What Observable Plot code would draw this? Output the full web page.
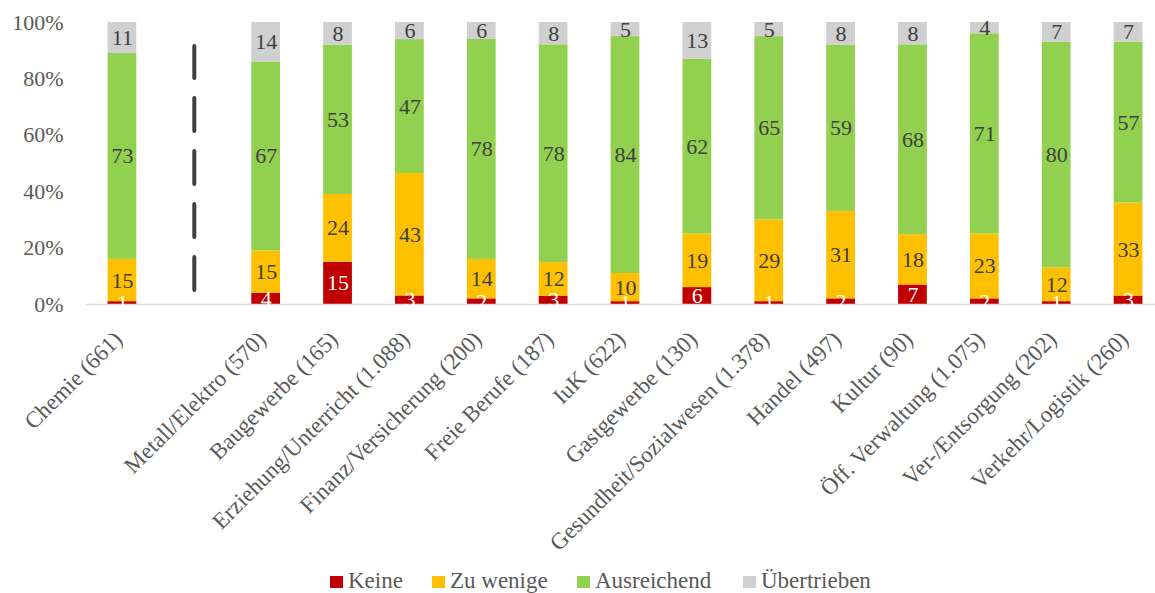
<!DOCTYPE html>
<html><head><meta charset="utf-8">
<script src="https://cdn.jsdelivr.net/npm/d3@7"></script>
<script src="https://cdn.jsdelivr.net/npm/@observablehq/plot@0.6"></script>
<style>
body{margin:0;background:#fff;font-family:"Liberation Serif","Times New Roman",serif;}
#wrap{position:relative;width:1155px;height:593px;overflow:hidden;}
.leg{position:absolute;top:568px;font-size:23px;color:#595959;line-height:26px;white-space:nowrap;}
.leg span.sw{display:inline-block;width:13px;height:12px;margin-right:5px;vertical-align:0px;}
</style></head>
<body><div id="wrap"></div>
<script>
const categories = ["Chemie (661)", "Metall/Elektro (570)", "Baugewerbe (165)", "Erziehung/Unterricht (1.088)", "Finanz/Versicherung (200)", "Freie Berufe (187)", "IuK (622)", "Gastgewerbe (130)", "Gesundheit/Sozialwesen (1.378)", "Handel (497)", "Kultur (90)", "Öff. Verwaltung (1.075)", "Ver-/Entsorgung (202)", "Verkehr/Logistik (260)"];
const seriesNames = ["Keine", "Zu wenige", "Ausreichend", "Übertrieben"];
const keine        = [1, 4, 15, 3, 2, 3, 1, 6, 1, 2, 7, 2, 1, 3];
const zuWenige     = [15, 15, 24, 43, 14, 12, 10, 19, 29, 31, 18, 23, 12, 33];
const ausreichend  = [73, 67, 53, 47, 78, 78, 84, 62, 65, 59, 68, 71, 80, 57];
const uebertrieben = [11, 14, 8, 6, 6, 8, 5, 13, 5, 8, 8, 4, 7, 7];
const yTicks = [0, 0.2, 0.4, 0.6, 0.8, 1];
const colors = ["#C00000", "#FFC000", "#92D050", "#D0D0D0"];
const dividerSpan = [0.05, 0.915];
const legendX = [330, 432, 577, 743];

const GAP = "\u2002";
const domain = [categories[0], GAP, ...categories.slice(1)];
const seriesValues = [keine, zuWenige, ausreichend, uebertrieben];
const data = [];
categories.forEach((c, i) => seriesNames.forEach((s, j) => data.push({cat: c, series: s, value: seriesValues[j][i]})));

const font = '"Liberation Serif","Times New Roman",serif';
const chart = Plot.plot({
  width: 1155, height: 560,
  marginLeft: 86, marginRight: 0, marginTop: 22, marginBottom: 256,
  style: {fontFamily: font, fontSize: "22px", background: "transparent"},
  x: {domain, range: [86, 1164], paddingInner: 0.6, paddingOuter: 0.3, round: false, label: null},
  y: {domain: [0, 1], label: null},
  color: {domain: seriesNames, range: colors},
  marks: [
    Plot.barY(data, {x: "cat", y: "value", fill: "series", order: seriesNames, offset: "normalize"}),
    Plot.ruleY([0], {stroke: "#d9d9d9", strokeWidth: 1.5}),
    Plot.ruleX([GAP], {y1: dividerSpan[0], y2: dividerSpan[1], stroke: "#404040", strokeWidth: 4, strokeDasharray: "33,20", strokeLinecap: "round"}),
    Plot.text(data, Plot.stackY({x: "cat", y: "value", text: "value", order: seriesNames, offset: "normalize",
      fill: d => d.series === "Keine" ? "#ffffff" : "#404040", fontSize: 22})),
    Plot.axisY({ticks: yTicks, tickFormat: d3.format(".0%"), tickSize: 0, tickPadding: 23, fill: "#595959", fontSize: 22}),
    Plot.axisX({tickRotate: -45, tickSize: 0, tickPadding: 8, dx: -4, dy: 23, fill: "#595959", fontSize: 23, tickFormat: d => d === GAP ? "" : d})
  ]
});
const wrap = document.getElementById("wrap");
wrap.appendChild(chart);
seriesNames.forEach((s, j) => {
  const d = document.createElement("div");
  d.className = "leg";
  d.style.left = legendX[j] + "px";
  d.innerHTML = `<span class="sw" style="background:${colors[j]}"></span>${s}`;
  wrap.appendChild(d);
});
</script></body></html>
